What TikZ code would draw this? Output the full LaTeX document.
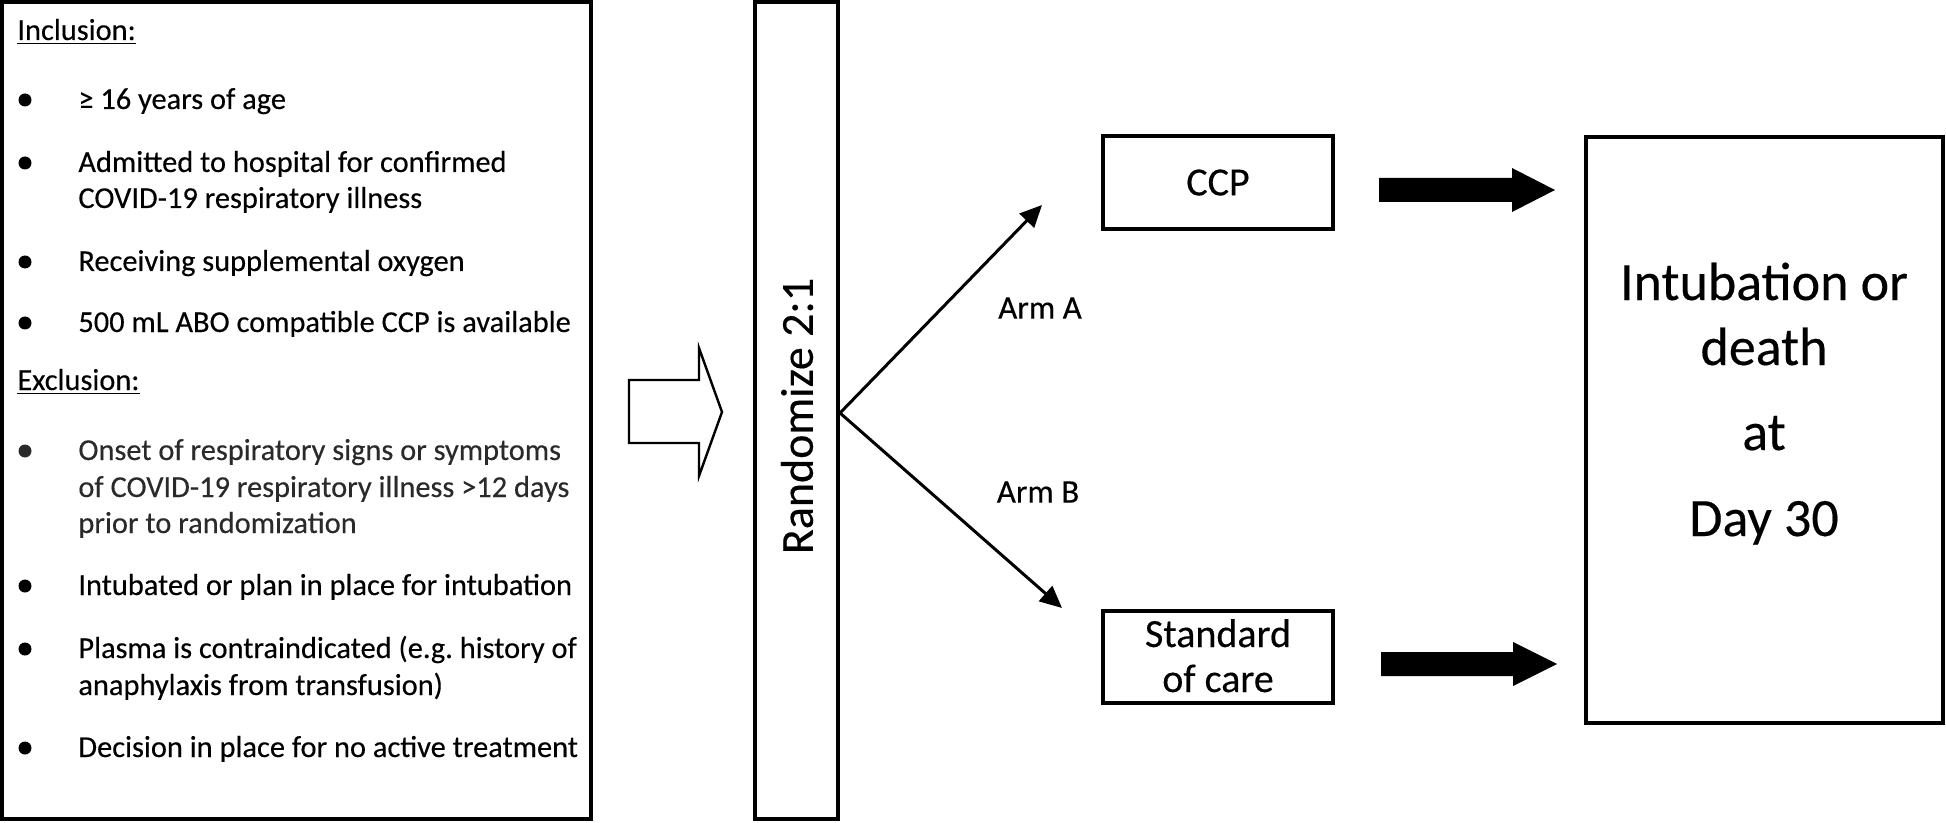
\documentclass[tikz,border=0pt]{standalone}
\usepackage{fontspec}
\setmainfont[FakeBold=0.3]{Carlito}
\usetikzlibrary{arrows.meta}
\definecolor{softblack}{HTML}{2A2A2A}
\frenchspacing
\begin{document}
\begin{tikzpicture}[x=0.5pt,y=-0.5pt,
  box/.style={draw, line width=2pt, inner sep=0pt},
  body/.style={font=\fontsize{15.2}{18}\selectfont, anchor=base west, inner sep=0pt},
  bul/.style={circle, fill, inner sep=0pt, minimum size=6.5pt},
  arm/.style={line width=1.5pt, -{Triangle[length=11pt,width=10pt]}},
  armlbl/.style={font=\fontsize{16.5}{20}\selectfont, inner sep=0pt},
  mid/.style={font=\fontsize{20}{24}\selectfont, align=center},
  outc/.style={font=\fontsize{27}{33}\selectfont, anchor=base, inner sep=0pt},
  hollow/.style={draw, line width=1.2pt, fill=white},
  solid/.style={fill=black}]
\useasboundingbox (0,0) rectangle (1946,823);

% criteria box
\node[box, minimum width=294.5pt, minimum height=408.5pt] (crit) at (296.5,410.5) {};
\node[body] (inc) at (17,40) {\underline{Inclusion:}};
\node[bul] (b1) at (25,100) {};
\node[body] (t1) at (78,109) {≥ 16 years of age};
\node[bul] (b2) at (25,163) {};
\node[body] (t2a) at (78,172) {Admitted to hospital for confirmed};
\node[body] (t2b) at (78,208) {COVID-19 respiratory illness};
\node[bul] (b3) at (25,262) {};
\node[body] (t3) at (78,271) {Receiving supplemental oxygen};
\node[bul] (b4) at (25,323) {};
\node[body] (t4) at (78,332) {500 mL ABO compatible CCP is available};
\node[body] (exc) at (17,390) {\underline{Exclusion:}};
\node[bul, fill=softblack] (b5) at (25,451) {};
\node[body, text=softblack] (t5a) at (78,460) {Onset of respiratory signs or symptoms};
\node[body, text=softblack] (t5b) at (78,497) {of COVID-19 respiratory illness >12 days};
\node[body, text=softblack] (t5c) at (78,533) {prior to randomization};
\node[bul] (b6) at (25,586) {};
\node[body] (t6) at (78,595) {Intubated or plan in place for intubation};
\node[bul] (b7) at (25,649) {};
\node[body] (t7a) at (78,658) {Plasma is contraindicated (e.g. history of};
\node[body] (t7b) at (78,695) {anaphylaxis from transfusion)};
\node[bul] (b8) at (25,748) {};
\node[body] (t8) at (78,757) {Decision in place for no active treatment};

% hollow arrow
\draw[hollow] (629,380) -- (699,380) -- (699,348) -- (722,412) -- (699,476) -- (699,443) -- (629,443) -- cycle;

% randomize box
\node[box, minimum width=41.5pt, minimum height=408.5pt] (rand) at (796.5,410.5) {};
\node[rotate=90, inner sep=0pt, font=\fontsize{23}{28}\selectfont] (randt) at (797,416) {Randomize 2:1};

% arms
\coordinate (split) at (840,413);
\coordinate (tipA) at (1042,205);
\coordinate (tipB) at (1062,608);
\draw[arm] (split) -- (tipA);
\draw[arm] (split) -- (tipB);
\node[armlbl] (la) at (1040,308) {Arm A};
\node[armlbl] (lb) at (1038,492) {Arm B};

% treatment boxes
\node[box, mid, minimum width=115pt, minimum height=46.5pt] (ccp) at (1218,182.5) {CCP};
\node[box, minimum width=115pt, minimum height=46pt] (soc) at (1218,657) {};
\node[mid, anchor=base, inner sep=0pt] (soc1) at (1218,647) {Standard};
\node[mid, anchor=base, inner sep=0pt] (soc2) at (1218,692) {of care};

% thick arrows
\fill[solid] (1379,178) -- (1512,178) -- (1512,168) -- (1555,190) -- (1512,212) -- (1512,202) -- (1379,202) -- cycle;
\fill[solid] (1381,652) -- (1513,652) -- (1513,642) -- (1557,664) -- (1513,686) -- (1513,676) -- (1381,676) -- cycle;

% outcome box
\node[box, minimum width=178.5pt, minimum height=293pt] (out) at (1764.5,430) {};
\node[outc] (o1) at (1764,300) {Intubation or};
\node[outc] (o2) at (1764,365) {death};
\node[outc] (o3) at (1764,450) {at};
\node[outc] (o4) at (1764,536) {Day 30};
\end{tikzpicture}
\end{document}
